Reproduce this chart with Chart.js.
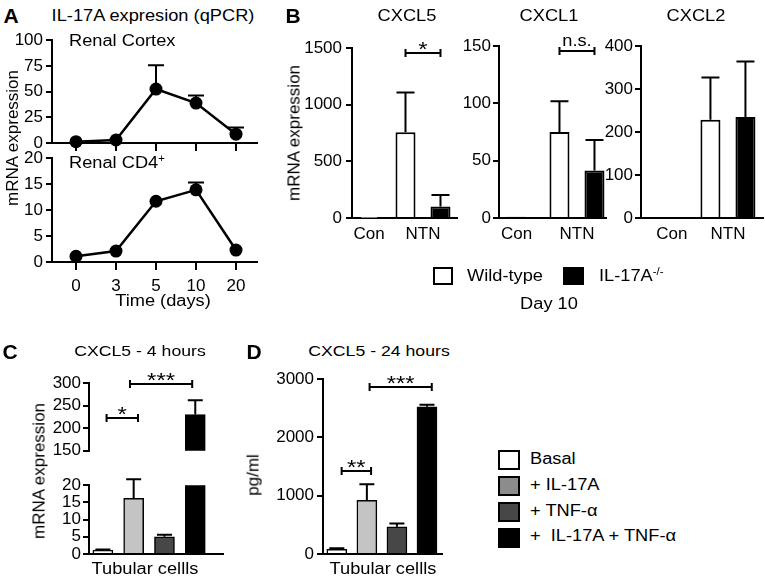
<!DOCTYPE html>
<html>
<head>
<meta charset="utf-8">
<script src="https://cdn.jsdelivr.net/npm/chart.js@4.4.0/dist/chart.umd.min.js"></script>
<style>
  html, body { margin: 0; padding: 0; background: #fff; }
  #fig { position: relative; width: 765px; height: 578px; overflow: hidden; background: #fff;
         font-family: "Liberation Sans", Arial, Helvetica, sans-serif; color: #000; }
  .t { position: absolute; white-space: pre; line-height: 1; }
  .sq { position: absolute; box-sizing: border-box; border: 2px solid #000; }
  sup { font-size: 10px; vertical-align: 6px; line-height: 0; }
</style>
</head>
<body>
<div id="fig"></div>
<script>
// ---------------- DATA ----------------
// Panel A: IL-17A expression (qPCR), time course
const days = ['0', '3', '5', '10', '20'];
const cortexMean = [1.3, 2.9, 52.5, 38.8, 8.6];
const cortexErr  = [0, 0, 23.2, 7.4, 6.4];
const cd4Mean    = [1.1, 2.1, 11.7, 13.9, 2.3];
const cd4Err     = [0, 0, 0, 1.4, 0];
const cortexTicks = [0, 25, 50, 75, 100];
const cd4Ticks    = [0, 5, 10, 15, 20];

// Panel B: day 10, Wild-type vs IL-17A-/-
const conditions = ['Con', 'NTN'];
const cxcl5WT = [1, 758];     const cxcl5WTErr = [0, 351];
const cxcl5KO = [null, 101];  const cxcl5KOErr = [0, 102];
const cxcl1WT = [1, 75];      const cxcl1WTErr = [0, 27];
const cxcl1KO = [null, 41.4]; const cxcl1KOErr = [0, 26.6];
const cxcl2WT = [2, 229];     const cxcl2WTErr = [0, 98];
const cxcl2KO = [null, 235];  const cxcl2KOErr = [0, 129.5];
const cxcl5Ticks = [0, 500, 1000, 1500];
const cxcl1Ticks = [0, 50, 100, 150];
const cxcl2Ticks = [0, 100, 200, 300, 400];

// Panels C and D: tubular cells
const treatments = ['Basal', '+ IL-17A', '+ TNF-α', '+  IL-17A + TNF-α'];
const mrna4h    = [1.1, 16.2, 5.0, 230.6];
const mrna4hErr = [0.2, 5.5, 0.6, 31.4];
const pg24h     = [80, 922, 466, 2527];
const pg24hErr  = [17, 273, 58, 34];
const mrnaTopTicks = [150, 200, 250, 300];
const mrnaLowTicks = [0, 5, 10, 15, 20];
const pgTicks = [0, 1000, 2000, 3000];

// ---------------- HELPERS ----------------
const TICK_FONT = 17;
Chart.defaults.font.family = '"Liberation Sans", Arial, sans-serif';
Chart.defaults.font.size = TICK_FONT;
Chart.defaults.color = '#000';
const fig = document.getElementById('fig');
const PAD = 12;
const SX = 1.14;

function drawErr(chart, o) {
  const ctx = chart.ctx, ys = chart.scales.y;
  ctx.save();
  ctx.strokeStyle = '#000';
  ctx.lineWidth = 2;
  chart.data.datasets.forEach((ds, di) => {
    if (!ds.err) return;
    chart.getDatasetMeta(di).data.forEach((el, i) => {
      const v = ds.vals[i], e = ds.err[i];
      if (v == null || !e || v < ys.min || v > ys.max) return;
      const x = el.x, y0 = ys.getPixelForValue(v), y1 = ys.getPixelForValue(v + e);
      ctx.beginPath();
      ctx.moveTo(x, y0); ctx.lineTo(x, y1);
      ctx.moveTo(x - o.cap / 2, y1); ctx.lineTo(x + o.cap / 2, y1);
      ctx.stroke();
    });
  });
  ctx.restore();
}
const errPlugin = {
  id: 'err',
  beforeDatasetsDraw(chart, a, o) { if (o && o.behind) drawErr(chart, o); },
  afterDatasetsDraw(chart, a, o) { if (o && o.cap && !o.behind) drawErr(chart, o); }
};
const brkPlugin = {
  id: 'brk',
  afterDatasetsDraw(chart, a, o) {
    if (!o || !o.items) return;
    const ctx = chart.ctx, xs = chart.scales.x, ys = chart.scales.y;
    ctx.save();
    ctx.strokeStyle = '#000'; ctx.fillStyle = '#000'; ctx.lineWidth = 2;
    o.items.forEach(b => {
      let x1, x2;
      if (b.bars) {
        x1 = chart.getDatasetMeta(b.bars[0][0]).data[b.bars[0][1]].x;
        x2 = chart.getDatasetMeta(b.bars[1][0]).data[b.bars[1][1]].x;
      } else {
        x1 = xs.getPixelForValue(b.x1); x2 = xs.getPixelForValue(b.x2);
      }
      const y = Math.round(ys.getPixelForValue(b.y));
      ctx.beginPath();
      ctx.moveTo(x1, y); ctx.lineTo(x2, y);
      ctx.moveTo(x1, y - 4); ctx.lineTo(x1, y + 4);
      ctx.moveTo(x2, y - 4); ctx.lineTo(x2, y + 4);
      ctx.stroke();
      const star = b.text.indexOf('*') >= 0;
      ctx.font = (star ? 21 : 16) + 'px "Liberation Sans", Arial, sans-serif';
      ctx.textAlign = 'center'; ctx.textBaseline = 'alphabetic';
      ctx.save();
      ctx.translate((x1 + x2) / 2, star ? y + 3 : y - 5);
      ctx.scale(SX, 1);
      ctx.fillText(b.text, 0, 0);
      ctx.restore();
    });
    ctx.restore();
  }
};

function yLin(tv, w, pad) {
  return {
    type: 'linear', position: 'left', min: tv[0], max: tv[tv.length - 1],
    afterBuildTicks: s => { s.ticks = tv.map(v => ({ value: v })); },
    afterFit: s => { s.width = w; },
    ticks: { padding: pad, autoSkip: false, color: '#000', font: { size: TICK_FONT }, callback: v => String(v) },
    grid: { display: true, drawOnChartArea: false, drawTicks: true, tickLength: 6, lineWidth: 2, color: '#000' },
    border: { display: true, width: 2, color: '#000' }
  };
}
function xLin(min, max, idx, labels, h, o) {
  o = o || {};
  const tl = o.tickLen || 0;
  return {
    type: 'linear', position: 'bottom', min, max, offset: false, display: o.hide ? false : true,
    afterBuildTicks: s => { s.ticks = idx.map(v => ({ value: v })); },
    afterFit: s => { s.height = h; },
    ticks: { display: !!labels, autoSkip: false, maxRotation: 0, minRotation: 0,
             padding: o.pad == null ? 6 : o.pad, color: '#000', font: { size: TICK_FONT },
             callback: (v, i) => labels ? labels[i] : '' },
    grid: { display: tl > 0, offset: false, drawOnChartArea: false, drawTicks: tl > 0,
            tickLength: tl || 1, lineWidth: 2, color: '#000' },
    border: { display: true, width: 2, color: '#000' }
  };
}
function opts(scales, plugins) {
  return {
    responsive: false, animation: false, events: [],
    layout: { padding: PAD },
    scales,
    plugins: Object.assign({ legend: { display: false }, tooltip: { enabled: false } }, plugins || {})
  };
}
function mk(area, yW, xH, cfg) {
  const w = Math.round(PAD + yW + (area.x1 - area.x0) + PAD);
  const h = Math.round(PAD + (area.y1 - area.y0) + xH + PAD);
  const cv = document.createElement('canvas');
  cv.style.position = 'absolute';
  cv.style.left = (area.x0 - yW - PAD) + 'px';
  cv.style.top = (area.y0 - PAD) + 'px';
  cv.style.width = w + 'px';
  cv.style.height = h + 'px';
  cv.width = w; cv.height = h;
  fig.appendChild(cv);
  cfg.plugins = [errPlugin, brkPlugin];
  return new Chart(cv, cfg);
}
function pts(vals) { return vals.map((v, i) => ({ x: i, y: v })); }
function lineDs(vals, err) {
  return { data: pts(vals), vals, err, borderColor: '#000', borderWidth: 2.5, tension: 0,
           pointRadius: 6.5, pointBackgroundColor: '#000', pointBorderWidth: 0, clip: false };
}
function grpDs(vals, err, fill, cp) {
  return { data: pts(vals), vals, err, backgroundColor: fill, borderColor: '#000', borderWidth: 2,
           categoryPercentage: cp, barPercentage: 1, maxBarThickness: 20, skipNull: true, clip: 0 };
}
const barFills = ['#ffffff', '#c4c4c4', '#474747', '#000000'];
const legendFills = ['#ffffff', '#8c8c8c', '#474747', '#000000'];
function trtDs(vals, err) {
  return { data: pts(vals), vals, err, backgroundColor: barFills, borderColor: '#000', borderWidth: 1.5,
           barThickness: 20, clip: 0 };
}
const dayIdx = days.map((d, i) => i);
const trtIdx = treatments.map((d, i) => i);
const condIdx = conditions.map((d, i) => i);

// ---------------- PANEL A ----------------
mk({ x0: 52, x1: 257, y0: 39, y1: 143 }, 48, 12, {
  type: 'line',
  data: { datasets: [lineDs(cortexMean, cortexErr)] },
  options: opts({ x: xLin(-0.6, 4.525, dayIdx, null, 12, { tickLen: 8 }), y: yLin(cortexTicks, 48, 3) },
                { err: { cap: 16, behind: true } })
});
mk({ x0: 52, x1: 257, y0: 157, y1: 262 }, 48, 40, {
  type: 'line',
  data: { datasets: [lineDs(cd4Mean, cd4Err)] },
  options: opts({ x: xLin(-0.6, 4.525, dayIdx, days, 40, { tickLen: 8, pad: 6 }), y: yLin(cd4Ticks, 48, 3) },
                { err: { cap: 16, behind: true } })
});

// ---------------- PANEL B ----------------
mk({ x0: 352, x1: 457, y0: 46, y1: 218 }, 52, 34, {
  type: 'bar',
  data: { datasets: [grpDs(cxcl5WT, cxcl5WTErr, '#ffffff', 1.296), grpDs(cxcl5KO, cxcl5KOErr, '#000000', 1.296)] },
  options: opts({ x: xLin(-0.315, 1.63, condIdx, conditions, 34, { pad: 6 }), y: yLin(cxcl5Ticks, 52, 4) },
                { err: { cap: 18 }, brk: { items: [{ bars: [[0, 1], [1, 1]], y: 1456, text: '*' }] } })
});
mk({ x0: 499, x1: 606, y0: 46, y1: 218 }, 44, 34, {
  type: 'bar',
  data: { datasets: [grpDs(cxcl1WT, cxcl1WTErr, '#ffffff', 1.158), grpDs(cxcl1KO, cxcl1KOErr, '#000000', 1.158)] },
  options: opts({ x: xLin(-0.29, 1.48, condIdx, conditions, 34, { pad: 6 }), y: yLin(cxcl1Ticks, 44, 2) },
                { err: { cap: 18 }, brk: { items: [{ bars: [[0, 1], [1, 1]], y: 145.6, text: 'n.s.' }] } })
});
mk({ x0: 641, x1: 763, y0: 46, y1: 218 }, 44, 34, {
  type: 'bar',
  data: { datasets: [grpDs(cxcl2WT, cxcl2WTErr, '#ffffff', 1.248), grpDs(cxcl2KO, cxcl2KOErr, '#000000', 1.248)] },
  options: opts({ x: xLin(-0.55, 1.625, condIdx, conditions, 34, { pad: 6 }), y: yLin(cxcl2Ticks, 44, 2) },
                { err: { cap: 18 } })
});

// ---------------- PANEL C ----------------
mk({ x0: 89, x1: 223, y0: 383, y1: 451 }, 46, 0, {
  type: 'bar',
  data: { datasets: [trtDs(mrna4h, mrna4hErr)] },
  options: opts({ x: xLin(-0.45, 3.9, trtIdx, null, 0, { hide: true }), y: yLin(mrnaTopTicks, 46, 2) },
                { err: { cap: 15 }, brk: { items: [
                  { x1: 0.12, x2: 1.14, y: 223, text: '*' },
                  { x1: 0.88, x2: 2.9, y: 298.8, text: '***' }] } })
});
mk({ x0: 89, x1: 223, y0: 485, y1: 554 }, 46, 4, {
  type: 'bar',
  data: { datasets: [trtDs(mrna4h, mrna4hErr)] },
  options: opts({ x: xLin(-0.45, 3.9, trtIdx, null, 4), y: yLin(mrnaLowTicks, 46, 2) },
                { err: { cap: 15 } })
});

// ---------------- PANEL D ----------------
mk({ x0: 323, x1: 442, y0: 378, y1: 554 }, 52, 4, {
  type: 'bar',
  data: { datasets: [trtDs(pg24h, pg24hErr)] },
  options: opts({ x: xLin(-0.46, 3.5, trtIdx, null, 4), y: yLin(pgTicks, 52, 3) },
                { err: { cap: 15 }, brk: { items: [
                  { x1: 0.16, x2: 1.14, y: 1422, text: '**' },
                  { x1: 1.09, x2: 3.16, y: 2868, text: '***' }] } })
});

// ---------------- TEXT & LEGENDS ----------------
function txt(html, x, y, o) {
  o = o || {};
  const e = document.createElement('div');
  e.className = 't';
  e.innerHTML = html;
  e.style.left = x + 'px';
  e.style.top = y + 'px';
  e.style.fontSize = (o.size || 16) + 'px';
  if (o.bold) e.style.fontWeight = 'bold';
  const sx = o.sx == null ? (o.rot ? 1 : SX) : o.sx;
  if (o.align === 'left') {
    e.style.transformOrigin = '0 50%';
    e.style.transform = 'translate(0,-50%) scaleX(' + sx + ')';
  } else {
    e.style.transformOrigin = '50% 50%';
    e.style.transform = 'translate(-50%,-50%)' + (o.rot ? ' rotate(' + o.rot + 'deg)' : '') + ' scaleX(' + sx + ')';
  }
  fig.appendChild(e);
  return e;
}
function sq(x, y, w, h, fill) {
  const e = document.createElement('div');
  e.className = 'sq';
  e.style.left = x + 'px'; e.style.top = y + 'px';
  e.style.width = w + 'px'; e.style.height = h + 'px';
  e.style.background = fill;
  fig.appendChild(e);
}

// Panel A
txt('A', 11, 15, { size: 21, bold: true, sx: 1 });
txt('IL-17A expresion (qPCR)', 153, 16);
txt('Renal Cortex', 69, 41, { align: 'left' });
txt('Renal CD4<sup>+</sup>', 69, 162.5, { align: 'left' });
txt('Time (days)', 163, 301);
txt('mRNA expression', 12, 138, { rot: -90, size: 17 });

// Panel B
txt('B', 293, 15, { size: 21, bold: true, sx: 1 });
txt('CXCL5', 406.5, 16);
txt('CXCL1', 548.5, 16);
txt('CXCL2', 695.8, 16);
txt('mRNA expression', 294, 133, { rot: -90, size: 17 });
sq(433, 267, 20, 18, '#ffffff');
txt('Wild-type', 467, 276, { align: 'left' });
sq(563, 267, 21, 18, '#000000');
txt('IL-17A<sup>-/-</sup>', 599, 276, { align: 'left' });
txt('Day 10', 548.5, 304);

// Panel C
txt('C', 10, 351, { size: 21, bold: true, sx: 1 });
txt('CXCL5 - 4 hours', 140, 351, { size: 15.5 });
txt('mRNA expression', 38.5, 471, { rot: -90, size: 17 });
txt('Tubular cellls', 145, 569);

// Panel D
txt('D', 254, 351, { size: 21, bold: true, sx: 1 });
txt('CXCL5 - 24 hours', 379, 351, { size: 15.5 });
txt('pg/ml', 253, 475, { rot: -90, size: 17 });
txt('Tubular cellls', 382.5, 569);

// Legend for C/D
const legTops = [450, 476, 502, 528];
const legTextY = [458.5, 485, 511, 536];
treatments.forEach((name, i) => {
  sq(498, legTops[i], 22, 20, legendFills[i]);
  txt(name, 530, legTextY[i], { align: 'left' });
});
</script>
</body>
</html>
